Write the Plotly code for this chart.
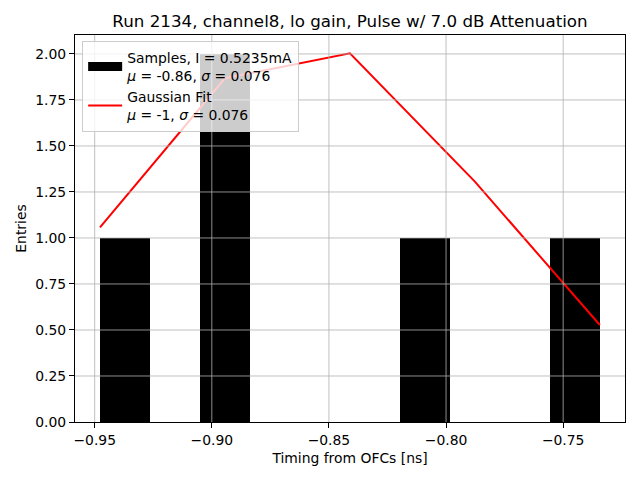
import plotly.graph_objects as go

# ---- data ----
bin_edges = [-0.94773, -0.92639, -0.90505, -0.88371, -0.86237, -0.84103,
             -0.81969, -0.79835, -0.77701, -0.75567, -0.73433]
counts = [1, 0, 2, 0, 0, 0, 1, 0, 0, 1]

fit_x = [-0.94773, -0.89438, -0.84103, -0.78768, -0.73433]
fit_y = [1.058, 1.868, 2.004, 1.306, 0.527]

x_ticks = [-0.95, -0.90, -0.85, -0.80, -0.75]
x_tick_labels = ["\u22120.95", "\u22120.90", "\u22120.85", "\u22120.80", "\u22120.75"]
y_ticks = [0.0, 0.25, 0.5, 0.75, 1.0, 1.25, 1.5, 1.75, 2.0]

title = "Run 2134, channel8, lo gain, Pulse w/ 7.0 dB Attenuation"
samples_label = "Samples, I = 0.5235mA<br><i>\u03bc</i> = -0.86, <i>\u03c3</i> = 0.076"
fit_label = "Gaussian Fit<br><i>\u03bc</i> = -1, <i>\u03c3</i> = 0.076"

centers = [(a + b) / 2 for a, b in zip(bin_edges[:-1], bin_edges[1:])]
widths = [b - a for a, b in zip(bin_edges[:-1], bin_edges[1:])]

FONT = "DejaVu Sans"
GRID = "#b0b0b0"

# page body adds an 8px offset; compensate so the figure lands on the 640x480 frame
OFF = 8
W, H = 640 - OFF, 480 - OFF

fig = go.Figure()
fig.add_trace(go.Bar(x=centers, y=counts, width=widths,
                     marker=dict(color="black", line=dict(width=0)),
                     showlegend=False, name="Samples"))
# legend handle for the histogram (rectangle)
fig.add_trace(go.Scatter(x=[None], y=[None], mode="lines",
                         line=dict(color="black", width=9),
                         name=samples_label))
fig.add_trace(go.Scatter(x=fit_x, y=fit_y, mode="lines",
                         line=dict(color="red", width=2),
                         name=fit_label))

shapes = []
for t in x_ticks:
    shapes.append(dict(type="line", xref="x", yref="paper", x0=t, x1=t, y0=0, y1=1,
                       line=dict(color=GRID, width=0.8), layer="above"))
for t in y_ticks[1:]:
    shapes.append(dict(type="line", xref="paper", yref="y", x0=0, x1=1, y0=t, y1=t,
                       line=dict(color=GRID, width=0.8), layer="above"))

fig.update_layout(
    width=W, height=H,
    margin=dict(l=75 - OFF, r=15, t=35 - OFF, b=58, autoexpand=False),
    paper_bgcolor="white", plot_bgcolor="white",
    font=dict(family=FONT, size=14, color="black"),
    title=dict(text=title, x=0.5, xref="paper", xanchor="center",
               y=1 - (21 - OFF) / H, yref="container", yanchor="middle",
               font=dict(family=FONT, size=16.7, color="black")),
    shapes=shapes,
    bargap=0,
    legend=dict(x=0.013, y=0.985, xanchor="left", yanchor="top",
                bgcolor="rgba(255,255,255,0.8)", bordercolor="#cccccc", borderwidth=1,
                font=dict(family=FONT, size=13.9, color="black"),
                itemwidth=34, tracegroupgap=0),
    xaxis=dict(range=[-0.9584, -0.7236], tickvals=x_ticks, ticktext=x_tick_labels,
               showgrid=False, zeroline=False, automargin=False,
               showline=True, linecolor="black", linewidth=1, mirror=True,
               ticks="outside", ticklen=5, tickcolor="black", tickwidth=1,
               tickfont=dict(family=FONT, size=13.9),
               title=dict(text="Timing from OFCs [ns]", standoff=6,
                          font=dict(family=FONT, size=13.9))),
    yaxis=dict(range=[0, 2.103], tickvals=y_ticks, tickformat=".2f",
               showgrid=False, zeroline=False, automargin=False,
               showline=True, linecolor="black", linewidth=1, mirror=True,
               ticks="outside", ticklen=5, tickcolor="black", tickwidth=1,
               tickfont=dict(family=FONT, size=13.9),
               title=dict(text="Entries", standoff=5,
                          font=dict(family=FONT, size=13.9))),
)

fig.write_html("out.html")
